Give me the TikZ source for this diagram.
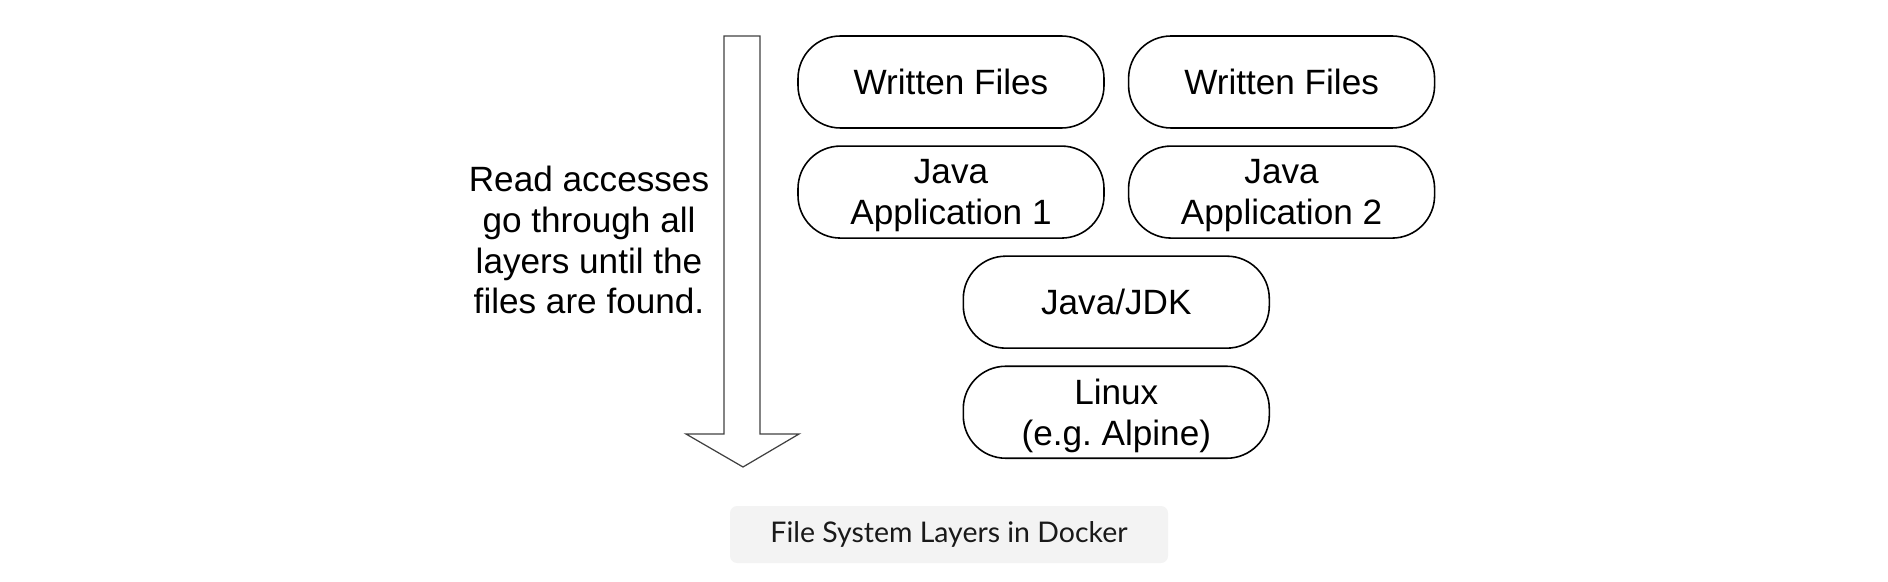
\documentclass[tikz,border=0pt]{standalone}
\usepackage{fontspec}
\setmainfont{Liberation Sans}
\newfontfamily\captionfont{Lato}
\usetikzlibrary{positioning, calc}

\definecolor{captionbg}{RGB}{243,243,243}
\definecolor{arrowgray}{RGB}{64,64,64}

\begin{document}
\begin{tikzpicture}[
    layer/.style={draw, line width=0.9pt, rounded corners=0.85cm,
                  minimum width=6.12cm, minimum height=1.84cm, inner sep=0pt,
                  text depth=0pt, align=center, font=\fontsize{20}{23.3}\selectfont},
    note/.style={align=center, font=\fontsize{20}{23.3}\selectfont},
    caption/.style={fill=captionbg, rounded corners=0.14cm,
                    minimum width=8.76cm, minimum height=1.14cm,
                    font=\captionfont\fontsize{16.2}{18}\selectfont, text=black!90}
  ]
    \useasboundingbox (0, 0) rectangle (37.76, -11.64);

    % layers, top to bottom
    \node[layer] (files1) at (19.02, -1.64) {Written Files};
    \node[layer, right=0.46cm of files1] (files2) {Written Files};
    \node[layer, below=0.33cm of files1] (app1) {Java\\Application 1};
    \node[layer, below=0.33cm of files2] (app2) {Java\\Application 2};
    \coordinate (mid) at ($(app1.south)!0.5!(app2.south)$);
    \node[layer, below=0.33cm of mid] (jdk) {Java/JDK};
    \node[layer, below=0.33cm of jdk] (linux) {Linux\\(e.g.\ Alpine)};

    % read direction
    \draw[arrowgray, line width=0.7pt]
      (14.48, -0.72) -- (14.48, -8.68) -- (13.72, -8.68) -- (14.86, -9.34)
      -- (15.98, -8.68) -- (15.2, -8.68) -- (15.2, -0.72) -- cycle;
    \node[note] (read) at (11.78, -4.8)
      {Read accesses\\go through all\\layers until the\\files are found.};

    \node[caption] (title) at (18.98, -10.69) {File System Layers in Docker};
  \end{tikzpicture}
\end{document}
